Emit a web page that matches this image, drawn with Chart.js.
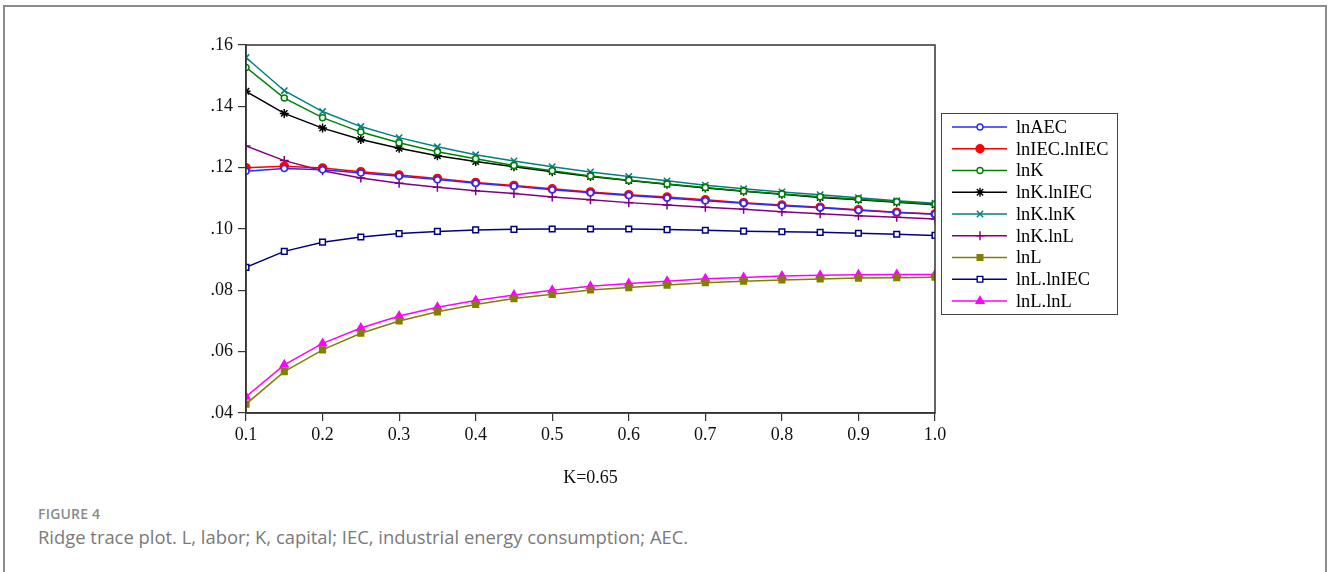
<!DOCTYPE html>
<html>
<head>
<meta charset="utf-8">
<script src="https://cdn.jsdelivr.net/npm/chart.js@4/dist/chart.umd.min.js"></script>
<style>
  html, body { margin: 0; padding: 0; background: #fff; width: 1328px; height: 572px; overflow: hidden; }
  #frame { position: absolute; left: 3px; top: 5px; width: 1320px; height: 600px; border: 2px solid #8c8c8c; border-bottom: none; }
  #wrap { position: absolute; left: 0; top: 0; width: 1328px; height: 500px; }
  #fig { position: absolute; left: 38px; top: 504px; font-family: "Open Sans", sans-serif; font-size: 14px; font-weight: 600; color: #8a8a8a; letter-spacing: 0.2px; }
  #cap { position: absolute; left: 38px; top: 524px; font-family: "Open Sans", sans-serif; font-size: 18.4px; color: #7a7a7a; }
</style>
</head>
<body>
<div id="frame"></div>
<div id="wrap"><canvas id="c" width="1328" height="500"></canvas></div>
<div id="fig">FIGURE 4</div>
<div id="cap">Ridge trace plot. L, labor; K, capital; IEC, industrial energy consumption; AEC.</div>
<script>
const kValues = [0.10,0.15,0.20,0.25,0.30,0.35,0.40,0.45,0.50,0.55,0.60,0.65,0.70,0.75,0.80,0.85,0.90,0.95,1.00];
const xTickValues = [0.1,0.2,0.3,0.4,0.5,0.6,0.7,0.8,0.9,1.0];
const yTickValues = [0.04,0.06,0.08,0.10,0.12,0.14,0.16];
const xTitle = "K=0.65";

const lnAEC      = [0.1188,0.1197,0.1193,0.1183,0.1172,0.1161,0.1149,0.1139,0.1128,0.1118,0.1109,0.1101,0.1092,0.1084,0.1076,0.1069,0.1061,0.1054,0.1048];
const lnIEClnIEC = [0.1200,0.1205,0.1199,0.1187,0.1176,0.1165,0.1152,0.1142,0.1131,0.1121,0.1112,0.1104,0.1095,0.1086,0.1078,0.1071,0.1063,0.1055,0.1049];
const lnK        = [0.1527,0.1427,0.1363,0.1316,0.1281,0.1252,0.1229,0.1207,0.1190,0.1173,0.1159,0.1147,0.1135,0.1124,0.1114,0.1105,0.1097,0.1089,0.1081];
const lnKlnIEC   = [0.1449,0.1377,0.1329,0.1292,0.1263,0.1239,0.1220,0.1203,0.1187,0.1171,0.1158,0.1146,0.1134,0.1123,0.1113,0.1103,0.1095,0.1087,0.1079];
const lnKlnK     = [0.1559,0.1451,0.1383,0.1334,0.1298,0.1268,0.1242,0.1222,0.1203,0.1186,0.1171,0.1157,0.1143,0.1131,0.1121,0.1112,0.1102,0.1092,0.1084];
const lnKlnL     = [0.1271,0.1223,0.1190,0.1166,0.1149,0.1136,0.1125,0.1116,0.1104,0.1095,0.1086,0.1078,0.1071,0.1064,0.1056,0.1050,0.1043,0.1038,0.1033];
const lnL        = [0.0429,0.0535,0.0606,0.0660,0.0700,0.0730,0.0754,0.0773,0.0787,0.0801,0.0809,0.0817,0.0825,0.0830,0.0834,0.0837,0.0840,0.0841,0.0843];
const lnLlnIEC   = [0.0875,0.0927,0.0957,0.0974,0.0985,0.0992,0.0997,0.0999,0.1000,0.1000,0.1000,0.0998,0.0996,0.0993,0.0991,0.0989,0.0986,0.0983,0.0979];
const lnLlnL     = [0.0453,0.0557,0.0627,0.0677,0.0716,0.0745,0.0767,0.0785,0.0800,0.0813,0.0822,0.0830,0.0838,0.0842,0.0847,0.0849,0.0851,0.0852,0.0852];

const seriesNames = ["lnAEC","lnIEC.lnIEC","lnK","lnK.lnIEC","lnK.lnK","lnK.lnL","lnL","lnL.lnIEC","lnL.lnL"];
const seriesData = [lnAEC,lnIEClnIEC,lnK,lnKlnIEC,lnKlnK,lnKlnL,lnL,lnLlnIEC,lnLlnL];
const seriesColors = ["#2a2aff","#ff0000","#008000","#000000","#008080","#800080","#808000","#000080","#ff00ff"];
const seriesStyles = ["circle","circle","circle","star","crossRot","cross","rect","rect","triangle"];
const seriesFill = ["#ffffff",null,"#ffffff",null,null,null,null,"#ffffff",null];
const seriesRadius = [3,4,3,4.5,4.5,4.5,4,4,4.5];

const datasets = seriesNames.map((name,i)=>({
  label: name,
  data: kValues.map((k,j)=>({x:k, y:seriesData[i][j]})),
  borderColor: seriesColors[i],
  backgroundColor: seriesFill[i] || seriesColors[i],
  pointBorderColor: seriesColors[i],
  pointBackgroundColor: seriesFill[i] || seriesColors[i],
  pointStyle: seriesStyles[i],
  pointRadius: seriesRadius[i],
  pointBorderWidth: 1.5,
  borderWidth: 1.5,
  tension: 0,
  fill: false
}));

const serif = "'Liberation Serif', 'Times New Roman', serif";

const boxPlugin = {
  id: 'boxPlugin',
  afterDraw(chart){
    const {ctx, chartArea:a} = chart;
    ctx.save();
    ctx.strokeStyle = '#333';
    ctx.lineWidth = 1.5;
    ctx.strokeRect(a.left, a.top, a.right-a.left, a.bottom-a.top);
    // legend
    const lx = 941, ly = 113, lw = 176, lh = 201;
    ctx.fillStyle = '#fff';
    ctx.fillRect(lx, ly, lw, lh);
    ctx.strokeStyle = '#444';
    ctx.lineWidth = 1;
    ctx.strokeRect(lx+0.5, ly+0.5, lw, lh);
    ctx.font = "18.4px " + serif;
    ctx.textBaseline = 'middle';
    chart.data.datasets.forEach((ds,i)=>{
      const y = 127 + i*21.75;
      ctx.strokeStyle = ds.borderColor;
      ctx.lineWidth = 1.5;
      ctx.beginPath(); ctx.moveTo(952, y); ctx.lineTo(1007, y); ctx.stroke();
      ctx.fillStyle = ds.pointBackgroundColor;
      ctx.strokeStyle = ds.pointBorderColor;
      ctx.lineWidth = 1.4;
      Chart.helpers.drawPoint(ctx, {pointStyle: ds.pointStyle, radius: ds.pointRadius, borderWidth: 1.4, rotation: 0}, 980, y);
      ctx.fillStyle = '#000';
      ctx.fillText(ds.label, 1016, y+1);
    });
    ctx.restore();
  }
};

new Chart(document.getElementById('c'), {
  type: 'line',
  data: { datasets },
  options: {
    responsive: false,
    animation: false,
    layout: { padding: { left: 200, right: 393, top: 45, bottom: 7 } },
    plugins: { legend: { display: false }, tooltip: { enabled: false } },
    scales: {
      x: {
        type: 'linear', min: 0.1, max: 1.0,
        afterBuildTicks: s => { s.ticks = xTickValues.map(v=>({value:v})); },
        afterFit: s => { s.height = 80; },
        grid: { drawOnChartArea: false, drawTicks: true, tickLength: 8, color: '#333', lineWidth: 1.2 },
        border: { display: true, color: '#333', width: 1.5 },
        ticks: { color: '#111', font: { family: serif, size: 18 }, padding: 3, maxRotation: 0,
                 callback: v => v.toFixed(1) },
        title: { display: true, text: xTitle, color: '#111', font: { family: serif, size: 18 }, padding: { top: 22 } }
      },
      y: {
        min: 0.04, max: 0.16,
        afterBuildTicks: s => { s.ticks = yTickValues.map(v=>({value:v})); },
        afterFit: s => { s.width = 46; },
        grid: { drawOnChartArea: false, drawTicks: true, tickLength: 8, color: '#333', lineWidth: 1.2 },
        border: { display: true, color: '#333', width: 1.5 },
        ticks: { color: '#111', font: { family: serif, size: 18 }, padding: 5,
                 callback: v => v.toFixed(2).replace(/^0/, '') }
      }
    }
  },
  plugins: [boxPlugin]
});
</script>
</body>
</html>
